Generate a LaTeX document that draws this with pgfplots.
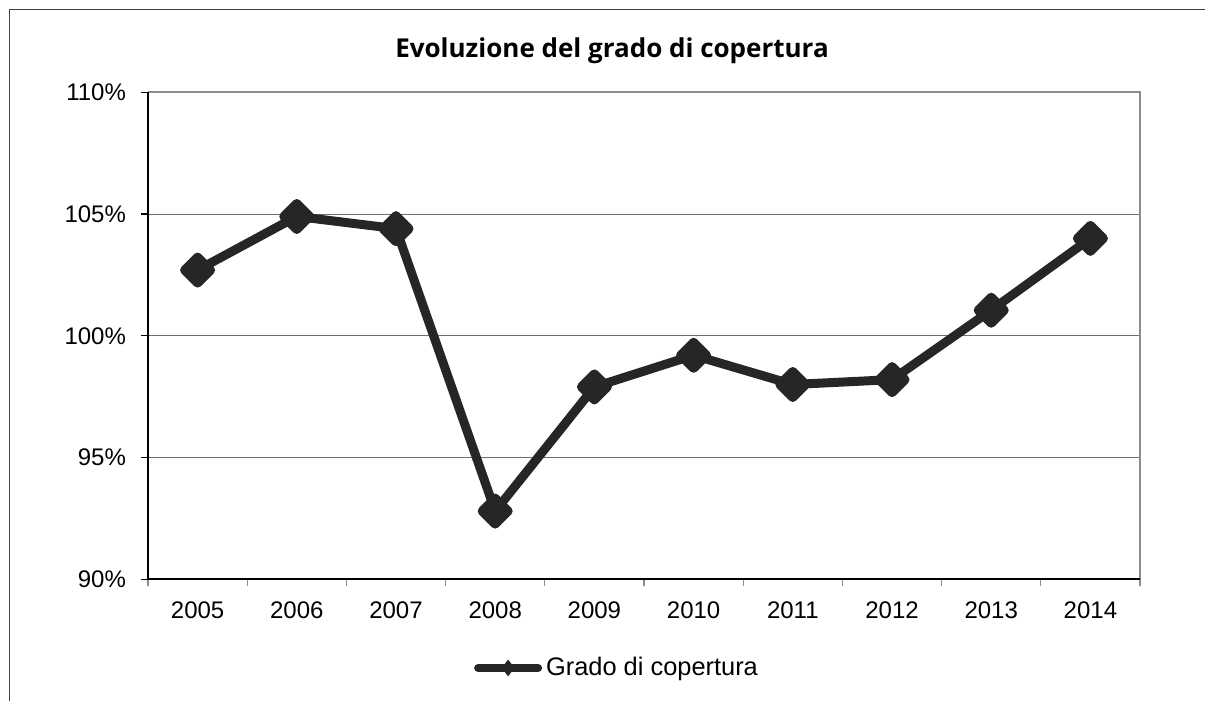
\documentclass[border=0pt]{standalone}
\usepackage{fontspec}
\setmainfont{Liberation Sans}
\newfontfamily\titlefont{Open Sans}
\usepackage{pgfplots}
\pgfplotsset{compat=1.18}
\definecolor{dk}{HTML}{262626}
\definecolor{framec}{HTML}{404040}
\definecolor{gridc}{HTML}{6E6E6E}
\definecolor{spine}{HTML}{8C8C8C}
\begin{document}
\begin{tikzpicture}
\path[use as bounding box] (0pt,0pt) rectangle (602.5pt,350.5pt);
\draw[framec, line width=0.8pt] (4.75pt,0pt) -- (4.75pt,345.75pt) -- (602.5pt,345.75pt);
\node[font=\titlefont\bfseries\fontsize{13}{15}\selectfont, anchor=base] at (306pt,321.5pt) {Evoluzione del grado di copertura};
\begin{axis}[
  at={(74pt,60.85pt)}, anchor=south west,
  width=496pt, height=243.5pt, scale only axis,
  clip=false,
  xmin=-0.5, xmax=9.5, ymin=90, ymax=110,
  xtick={0,...,9},
  xticklabels={2005,2006,2007,2008,2009,2010,2011,2012,2013,2014},
  major x tick style={draw=none},
  minor xtick={-0.5,0.5,...,9.5},
  minor x tick style={draw=spine, line width=0.6pt},
  minor tick length=3.5pt,
  major tick length=3.5pt,
  xtick pos=lower, ytick pos=left,
  ytick={90,95,...,110},
  yticklabels={90\%,95\%,100\%,105\%,110\%},
  major y tick style={black, line width=0.6pt},
  tick align=outside,
  ymajorgrids, grid style={gridc, line width=0.5pt},
  axis line style={draw=none},
  ticklabel style={font=\fontsize{12}{14}\selectfont},
  xticklabel style={yshift=-4pt},
  yticklabel style={xshift=-4pt},
  legend style={draw=none, at={(0.4738,-0.182)}, anchor=center, font=\fontsize{12.7}{15}\selectfont},
  legend image code/.code={
    \draw[dk, line width=4pt, line cap=round] (0pt,0pt) -- (30pt,0pt);
    \path[fill=dk, draw=none] (11.8pt,0pt) -- (15pt,4.2pt) -- (18.2pt,0pt) -- (15pt,-4.2pt) -- cycle;
  },
]
\draw[spine, line width=1.2pt] (rel axis cs:0,1) -- (rel axis cs:1,1) -- (rel axis cs:1,0);
\draw[black, line width=1pt] (rel axis cs:0,1) -- (rel axis cs:0,0) -- (rel axis cs:1,0);
\addplot[dk, line width=4.5pt, line join=round, mark=square*, mark size=4.6pt,
  mark options={solid, fill=dk, draw=none, rotate=45}]
  coordinates {(0,102.7) (1,104.9) (2,104.4) (3,92.8) (4,97.9) (5,99.2) (6,98.0) (7,98.2) (8,101.05) (9,104.0)};
\addlegendentry{Grado di copertura}
\end{axis}
\end{tikzpicture}
\end{document}
